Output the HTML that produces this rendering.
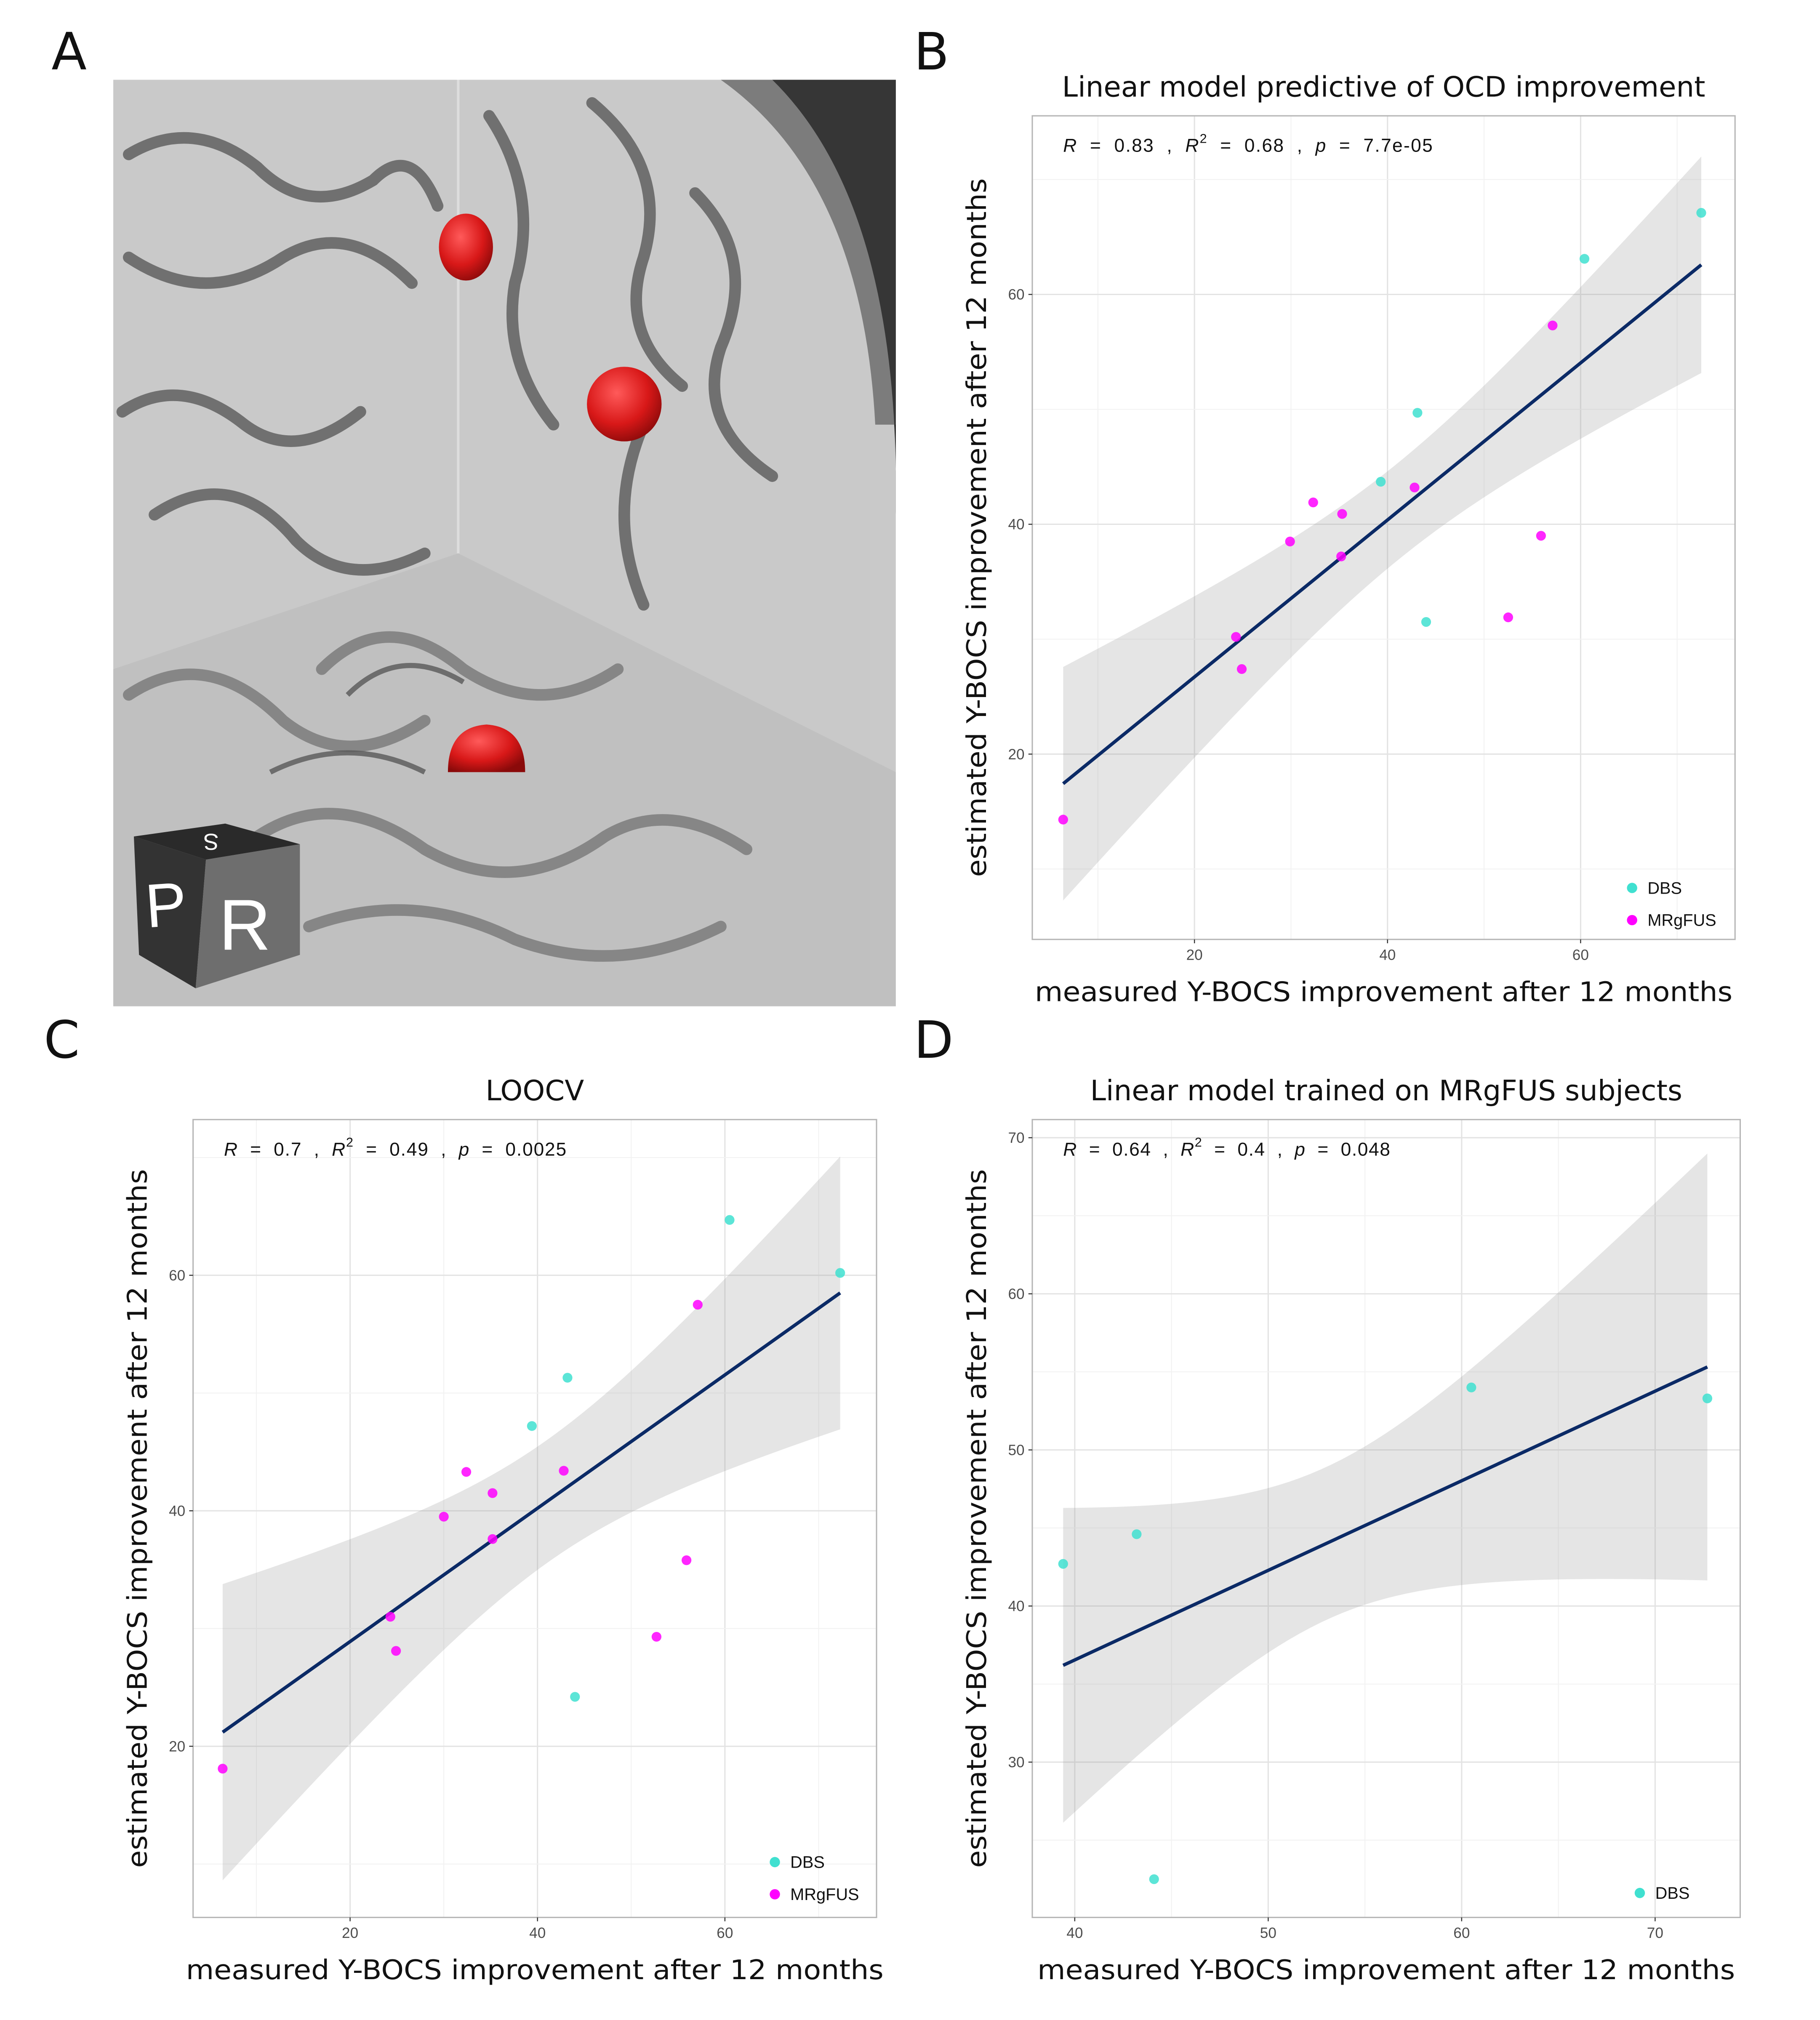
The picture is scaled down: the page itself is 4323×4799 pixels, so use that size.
<!DOCTYPE html>
<html><head><meta charset="utf-8"><style>
html,body{margin:0;padding:0;background:#fff}
svg{display:block}
text{font-family:"Liberation Sans","DejaVu Sans",sans-serif}
.dv{font-family:"DejaVu Sans","Liberation Sans",sans-serif}
.pre{white-space:pre}
</style></head><body>
<svg id="fig" xmlns="http://www.w3.org/2000/svg" width="4323" height="4799" viewBox="0 0 1414 1569.7" preserveAspectRatio="none">
<rect width="1414" height="1569.7" fill="#fff"/>
<g>
  <defs>
    <radialGradient id="sph" cx="0.4" cy="0.35" r="0.7">
      <stop offset="0" stop-color="#ff5a5a"/><stop offset="0.6" stop-color="#d81818"/><stop offset="1" stop-color="#8a0a0a"/>
    </radialGradient>
    <clipPath id="aclip"><rect x="88" y="62" width="608" height="720"/></clipPath>
  </defs>
  <g clip-path="url(#aclip)">
    <rect x="88" y="62" width="608" height="720" fill="#c9c9c9"/>
    <path d="M600 62 Q700 160 696 400 L696 62 Z" fill="#1a1a1a"/>
    <path d="M560 62 Q670 140 680 330 L696 330 L696 62Z" fill="#4a4a4a" opacity="0.6"/>
    <g fill="none" stroke="#5a5a5a" stroke-width="9" stroke-linecap="round" opacity="0.8">
      <path d="M100 120 Q150 90 200 130 Q240 170 290 140 Q320 110 340 160"/>
      <path d="M100 200 Q160 240 220 200 Q270 170 320 220"/>
      <path d="M95 320 Q140 290 190 330 Q230 360 280 320"/>
      <path d="M120 400 Q180 360 230 420 Q270 460 330 430"/>
      <path d="M380 90 Q420 150 400 220 Q390 280 430 330"/>
      <path d="M460 80 Q520 130 500 200 Q480 260 530 300"/>
      <path d="M540 150 Q590 200 560 270 Q540 330 600 370"/>
      <path d="M500 330 Q470 400 500 470"/>
      <path d="M100 540 Q160 500 220 560 Q270 600 330 560"/>
      <path d="M250 520 Q300 470 360 520 Q420 560 480 520"/>
      <path d="M200 650 Q260 610 330 660 Q400 700 470 650 Q520 620 580 660"/>
      <path d="M240 720 Q320 690 400 730 Q480 760 560 720"/>
    </g>
    <g fill="none" stroke="#2a2a2a" stroke-width="4" opacity="0.8">
      <path d="M270 540 Q310 500 360 530"/>
      <path d="M210 600 Q270 570 330 600"/>
    </g>
    <path d="M356 430 L696 600 L696 782 L88 782 L88 520 Z" fill="#b0b0b0" opacity="0.35"/>
    <line x1="356" y1="62" x2="356" y2="430" stroke="#ddd" stroke-width="2"/>
    <ellipse cx="362" cy="192" rx="21" ry="26" fill="url(#sph)"/>
    <ellipse cx="485" cy="314" rx="29" ry="29" fill="url(#sph)"/>
    <path d="M348 600 Q348 565 378 563 Q408 565 408 600 Z" fill="url(#sph)"/>
    <polygon points="104,650 175,640 233,656 160,668" fill="#2a2a2a"/>
    <polygon points="104,650 160,668 152,768 108,742" fill="#333"/>
    <polygon points="160,668 233,656 233,742 152,768" fill="#6e6e6e"/>
    <text x="113" y="720" font-size="48" fill="#fff" transform="rotate(-4 125 705)">P</text>
    <text x="170" y="738" font-size="56" fill="#fff">R</text>
    <text x="150" y="660" font-size="18" fill="#fff" transform="rotate(180 160 654)">S</text>
  </g>
</g>
<g id="panels"></g>
</svg>
<script>
// ---------- DATA ----------
const bDbsX = [72.5, 60.4, 43.1, 39.3, 44.0];
const bDbsY = [67.1, 63.1, 49.7, 43.7, 31.5];
const bMrgX = [6.4, 57.1, 32.3, 35.3, 29.9, 35.2, 42.8, 55.9, 52.5, 24.3, 24.9];
const bMrgY = [14.3, 57.3, 41.9, 40.9, 38.5, 37.2, 43.2, 39.0, 31.9, 30.2, 27.4];

const cDbsX = [72.3, 60.5, 43.2, 39.4, 44.0];
const cDbsY = [60.2, 64.7, 51.3, 47.2, 24.2];
const cMrgX = [6.4, 57.1, 32.4, 35.2, 30.0, 35.2, 42.8, 55.9, 52.7, 24.3, 24.9];
const cMrgY = [18.1, 57.5, 43.3, 41.5, 39.5, 37.6, 43.4, 35.8, 29.3, 31.0, 28.1];

const dDbsX = [39.4, 43.2, 44.1, 60.5, 72.7];
const dDbsY = [42.7, 44.6, 22.5, 54.0, 53.3];
const dFitIntercept = [36.2 - 39.4 * 0.574];
const dFitSlope = [0.574];
const dBand = [53, 24, 0.42];

const bXTicks = [20, 40, 60];
const bYTicks = [20, 40, 60];
const cXTicks = [20, 40, 60];
const cYTicks = [20, 40, 60];
const dXTicks = [40, 50, 60, 70];
const dYTicks = [30, 40, 50, 60, 70];

const DBS = "#40E0D0", MRG = "#FF00FF";
const NS = "http://www.w3.org/2000/svg";
const root = document.getElementById("panels");
function mk(tag, attrs, parent) {
  const e = document.createElementNS(NS, tag);
  for (const k in attrs) e.setAttribute(k, attrs[k]);
  (parent || root).appendChild(e);
  return e;
}
function txt(s, attrs, parent) { const t = mk("text", attrs, parent); t.textContent = s; return t; }

function lmFit(xs, ys) {
  const n = xs.length;
  const mx = xs.reduce((a, b) => a + b) / n, my = ys.reduce((a, b) => a + b) / n;
  let sxx = 0, sxy = 0;
  for (let i = 0; i < n; i++) { sxx += (xs[i] - mx) ** 2; sxy += (xs[i] - mx) * (ys[i] - my); }
  const b = sxy / sxx, a = my - b * mx;
  let sse = 0;
  for (let i = 0; i < n; i++) sse += (ys[i] - a - b * xs[i]) ** 2;
  const s = Math.sqrt(sse / (n - 2));
  const tcrit = n - 2 >= 14 ? 2.145 : 2.2;
  return { a, b, half: x => tcrit * s * Math.sqrt(1 / n + (x - mx) ** 2 / sxx) };
}

function panel(cfg) {
  const g = mk("g", {});
  
  
  const { L, R, T, B } = cfg;
  const sx = v => cfg.px0 + (v - cfg.x0) * cfg.kx;
  const sy = v => cfg.py0 - (v - cfg.y0) * cfg.ky;
  const xmin = cfg.x0 + (L - cfg.px0) / cfg.kx, xmax = cfg.x0 + (R - cfg.px0) / cfg.kx;
  const ymin = cfg.y0 - (B - cfg.py0) / cfg.ky, ymax = cfg.y0 - (T - cfg.py0) / cfg.ky;
  const step = cfg.xTicks[1] - cfg.xTicks[0];
  for (let v = Math.ceil(xmin / (step / 2)) * step / 2; v <= xmax; v += step / 2)
    mk("line", { x1: sx(v), x2: sx(v), y1: T, y2: B, stroke: cfg.xTicks.includes(v) ? "#e3e3e3" : "#f2f2f2", "stroke-width": cfg.xTicks.includes(v) ? 1 : 0.7 }, g);
  const ystep = cfg.yTicks[1] - cfg.yTicks[0];
  for (let v = Math.ceil(ymin / (ystep / 2)) * ystep / 2; v <= ymax; v += ystep / 2)
    mk("line", { y1: sy(v), y2: sy(v), x1: L, x2: R, stroke: cfg.yTicks.includes(v) ? "#e3e3e3" : "#f2f2f2", "stroke-width": cfg.yTicks.includes(v) ? 1 : 0.7 }, g);
  const x1 = cfg.lx0, x2 = cfg.lx1;
  let up = [], lo = [];
  for (let i = 0; i <= 60; i++) {
    const x = x1 + (x2 - x1) * i / 60;
    const c = cfg.fitA + cfg.fitB * x, h = cfg.half(x);
    up.push(sx(x) + "," + sy(c + h)); lo.unshift(sx(x) + "," + sy(c - h));
  }
  const rib = mk("polygon", { points: up.concat(lo).join(" "), fill: "#999", "fill-opacity": 0.25 }, g);
  
  
  const ln = mk("line", { x1: sx(x1), y1: sy(cfg.fitA + cfg.fitB * x1), x2: sx(x2), y2: sy(cfg.fitA + cfg.fitB * x2), stroke: "#0b2a66", "stroke-width": 2.6 }, g);
  
  
  cfg.series.forEach(s => {
    s.xs.forEach((x, i) => {
      const p = mk("circle", { cx: sx(x), cy: sy(s.ys[i]), r: 3.8, fill: s.color, "fill-opacity": 0.85 }, g);
      
      
    });
  });
  mk("rect", { x: L, y: T, width: R - L, height: B - T, fill: "none", stroke: "#b5b5b5", "stroke-width": 1 }, g);
  cfg.xTicks.forEach(v => {
    mk("line", { x1: sx(v), x2: sx(v), y1: B, y2: B + 3, stroke: "#333", "stroke-width": 0.8 }, g);
    const t = txt(String(v), { x: sx(v), y: B + 16, "font-size": 11.5, fill: "#4d4d4d", "text-anchor": "middle" }, g);
    
    
  });
  cfg.yTicks.forEach(v => {
    mk("line", { x1: L - 3, x2: L, y1: sy(v), y2: sy(v), stroke: "#333", "stroke-width": 0.8 }, g);
    const t = txt(String(v), { x: L - 6, y: sy(v) + 4, "font-size": 11.5, fill: "#4d4d4d", "text-anchor": "end" }, g);
    
    
  });
  const ti = txt(cfg.title, { x: (L + R) / 2, y: T - 15, "font-size": 22, "text-anchor": "middle", fill: "#111", class: "dv" }, g);
  
  
  const xt = txt("measured Y-BOCS improvement after 12 months", { x: (L + R) / 2, y: B + 48, "font-size": 21, "text-anchor": "middle", fill: "#111", class: "dv", textLength: 542, lengthAdjust: "spacingAndGlyphs" }, g);
  
  
  const yx = cfg.ytx, yy = (T + B) / 2;
  const yt = txt("estimated Y-BOCS improvement after 12 months", { x: yx, y: yy, "font-size": 21, "text-anchor": "middle", fill: "#111", class: "dv", textLength: 543, lengthAdjust: "spacingAndGlyphs", transform: `rotate(-90 ${yx} ${yy})` }, g);
  
  
  const an = mk("text", { x: L + 24, y: T + 28, "font-size": 14.5, fill: "#111", class: "pre", textLength: cfg.annLen, lengthAdjust: "spacing" }, g);
  
  
  an.innerHTML = `<tspan font-style="italic">R</tspan>  =  ${cfg.stats[0]}  ,  <tspan font-style="italic">R</tspan><tspan dy="-7" font-size="10">2</tspan><tspan dy="7">  =  ${cfg.stats[1]}  ,  </tspan><tspan font-style="italic">p</tspan>  =  ${cfg.stats[2]}`;
  cfg.legend.forEach((s, i) => {
    const ly = cfg.legY + i * 25;
    const d = mk("circle", { cx: cfg.legX, cy: ly, r: 4, fill: s.color }, g);
    
    
    const lt = txt(s.label, { x: cfg.legX + 12, y: ly + 4.5, "font-size": 13, fill: "#111" }, g);
    
    
  });
  const pl = txt(cfg.letter, { x: cfg.letX, y: cfg.letY, "font-size": 40, fill: "#111", class: "dv" }, g);
  
  
}

const fb = lmFit(bDbsX.concat(bMrgX), bDbsY.concat(bMrgY));
const fc = lmFit(cDbsX.concat(cMrgX), cDbsY.concat(cMrgY));
const allB = bDbsX.concat(bMrgX), allC = cDbsX.concat(cMrgX);

panel({ name: "panel-b-chart", letter: "B", letX: 710, letY: 54, L: 802, R: 1348, T: 90, B: 730,
  px0: 928, x0: 20, kx: 7.5, py0: 586, y0: 20, ky: 8.93, ytx: 766, annLen: 287,
  xTicks: bXTicks, yTicks: bYTicks, title: "Linear model predictive of OCD improvement",
  stats: ["0.83", "0.68", "7.7e-05"], fitA: fb.a, fitB: fb.b, half: fb.half,
  lx0: Math.min(...allB), lx1: Math.max(...allB),
  series: [{ xs: bDbsX, ys: bDbsY, color: DBS, label: "DBS" }, { xs: bMrgX, ys: bMrgY, color: MRG, label: "MRgFUS" }],
  legend: [{ color: DBS, label: "DBS" }, { color: MRG, label: "MRgFUS" }], legX: 1268, legY: 690 });

panel({ name: "panel-c-chart", letter: "C", letX: 34, letY: 822, L: 150, R: 681, T: 870, B: 1490,
  px0: 272, x0: 20, kx: 7.28, py0: 1357, y0: 20, ky: 9.15, ytx: 114, annLen: 266,
  xTicks: cXTicks, yTicks: cYTicks, title: "LOOCV",
  stats: ["0.7", "0.49", "0.0025"], fitA: fc.a, fitB: fc.b, half: fc.half,
  lx0: Math.min(...allC), lx1: Math.max(...allC),
  series: [{ xs: cDbsX, ys: cDbsY, color: DBS, label: "DBS" }, { xs: cMrgX, ys: cMrgY, color: MRG, label: "MRgFUS" }],
  legend: [{ color: DBS, label: "DBS" }, { color: MRG, label: "MRgFUS" }], legX: 602, legY: 1447 });

panel({ name: "panel-d-chart", letter: "D", letX: 710, letY: 822, L: 802, R: 1352, T: 870, B: 1490,
  px0: 835, x0: 40, kx: 15.03, py0: 1248, y0: 40, ky: 12.13, ytx: 766, annLen: 254,
  xTicks: dXTicks, yTicks: dYTicks, title: "Linear model trained on MRgFUS subjects",
  stats: ["0.64", "0.4", "0.048"], fitA: dFitIntercept[0], fitB: dFitSlope[0],
  half: x => Math.sqrt(dBand[1] + dBand[2] * (x - dBand[0]) ** 2),
  lx0: Math.min(...dDbsX), lx1: Math.max(...dDbsX),
  series: [{ xs: dDbsX, ys: dDbsY, color: DBS, label: "DBS" }],
  legend: [{ color: DBS, label: "DBS" }], legX: 1274, legY: 1471 });

const la = document.createElementNS(NS, "text");
la.setAttribute("x", 40); la.setAttribute("y", 54); la.setAttribute("font-size", 40); la.setAttribute("fill", "#111"); la.setAttribute("class", "dv");
la.textContent = "A";


root.appendChild(la);
</script>
</body></html>
